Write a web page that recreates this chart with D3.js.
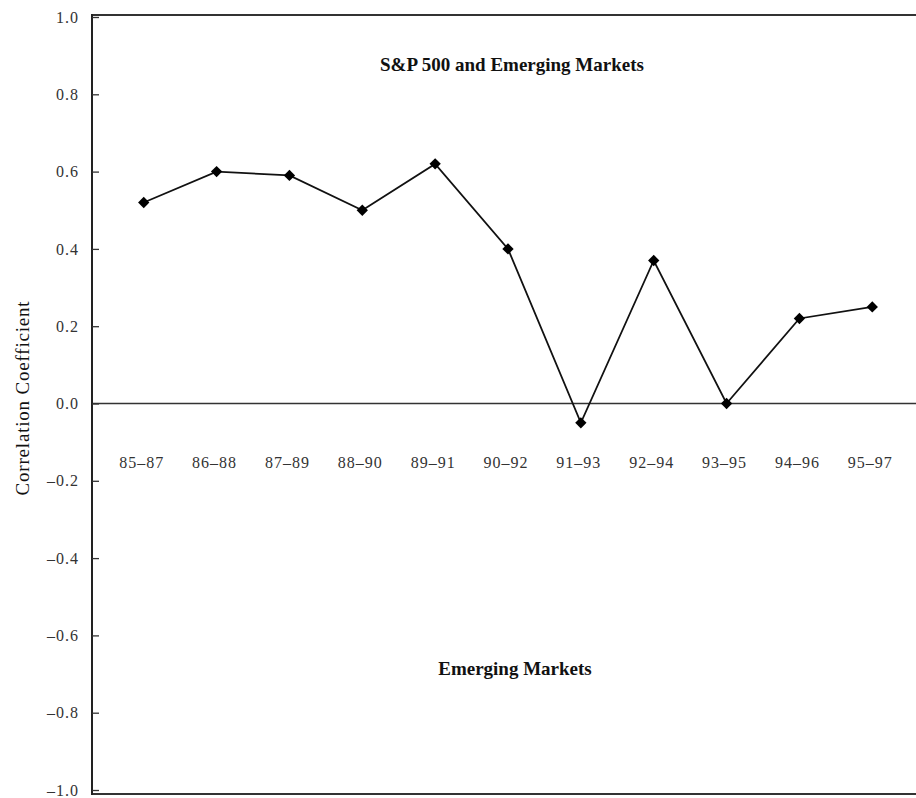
<!DOCTYPE html>
<html><head><meta charset="utf-8">
<script src="https://cdn.jsdelivr.net/npm/d3@7/dist/d3.min.js"></script>
<style>body{margin:0;background:#fff}svg{display:block}</style>
</head><body>
<svg id="c" width="916" height="798"></svg>
<script>
const periods = ["85–87","86–88","87–89","88–90","89–91","90–92","91–93","92–94","93–95","94–96","95–97"];
const correlations = [0.52,0.60,0.59,0.50,0.62,0.40,-0.05,0.37,0.00,0.22,0.25];
const yTicks = [1.0,0.8,0.6,0.4,0.2,0.0,-0.2,-0.4,-0.6,-0.8,-1.0];
const topTitle = "S&P 500 and Emerging Markets";
const bottomTitle = "Emerging Markets";
const yLabel = "Correlation Coefficient";

(function () {
const svg = d3.select("#c");
const mLeft = 92, mRight = 924, mTop = 17, mBottom = 790;
const font = "'Liberation Serif','Times New Roman',serif";

const x = d3.scalePoint().domain(periods).range([mLeft, mRight]).padding(0.71);
const y = d3.scaleLinear().domain([-1, 1]).range([mBottom, mTop]);

// frame: top, bottom, zero line
svg.append("line").attr("x1", mLeft).attr("x2", 916).attr("y1", 15).attr("y2", 15)
  .attr("stroke", "#333").attr("stroke-width", 2);
svg.append("line").attr("x1", mLeft).attr("x2", 916).attr("y1", 794).attr("y2", 794)
  .attr("stroke", "#333").attr("stroke-width", 2);
svg.append("line").attr("x1", mLeft).attr("x2", 916).attr("y1", y(0)).attr("y2", y(0))
  .attr("stroke", "#333").attr("stroke-width", 1.5);

const yAxis = d3.axisRight(y).tickValues(yTicks).tickSize(7).tickFormat(() => "");
const ga = svg.append("g").attr("transform", `translate(${mLeft},0)`).call(yAxis);
ga.select(".domain").attr("stroke", "#222").attr("stroke-width", 2)
  .attr("d", `M0,14V795`);
ga.selectAll(".tick line").attr("stroke", "#333").attr("stroke-width", 1.3);

svg.append("g").selectAll("text").data(yTicks).join("text")
  .attr("x", 79).attr("y", d => y(d)).attr("dy", "0.35em")
  .attr("text-anchor", "end").attr("font-family", font).attr("font-size", 16)
  .attr("letter-spacing", 1).attr("fill", "#333")
  .text(d => (d < 0 ? "–" : "") + Math.abs(d).toFixed(1));

// x labels
svg.append("g").selectAll("text").data(periods).join("text")
  .attr("x", d => x(d) - 2).attr("y", 468)
  .attr("text-anchor", "middle").attr("font-family", font).attr("font-size", 16)
  .attr("letter-spacing", 1).attr("fill", "#333").text(d => d);

// line
const line = d3.line().x((d, i) => x(periods[i])).y(d => y(d));
svg.append("path").datum(correlations).attr("d", line)
  .attr("fill", "none").attr("stroke", "#111").attr("stroke-width", 1.8);

svg.append("g").selectAll("path").data(correlations).join("path")
  .attr("d", d3.symbol().type(d3.symbolSquare).size(64))
  .attr("transform", (d, i) => `translate(${x(periods[i])},${y(d)}) rotate(45)`)
  .attr("fill", "#000");

// titles
svg.append("text").attr("x", 512).attr("y", 71).attr("text-anchor", "middle")
  .attr("font-family", font).attr("font-size", 19).attr("font-weight", "bold")
  .attr("fill", "#111").text(topTitle);
svg.append("text").attr("x", 515).attr("y", 675).attr("text-anchor", "middle")
  .attr("font-family", font).attr("font-size", 19).attr("font-weight", "bold")
  .attr("fill", "#111").text(bottomTitle);

svg.append("text").attr("transform", `translate(29,398) rotate(-90)`)
  .attr("text-anchor", "middle").attr("font-family", font).attr("font-size", 19)
  .attr("letter-spacing", 0.8).attr("fill", "#111").text(yLabel);
})();
</script>
</body></html>
